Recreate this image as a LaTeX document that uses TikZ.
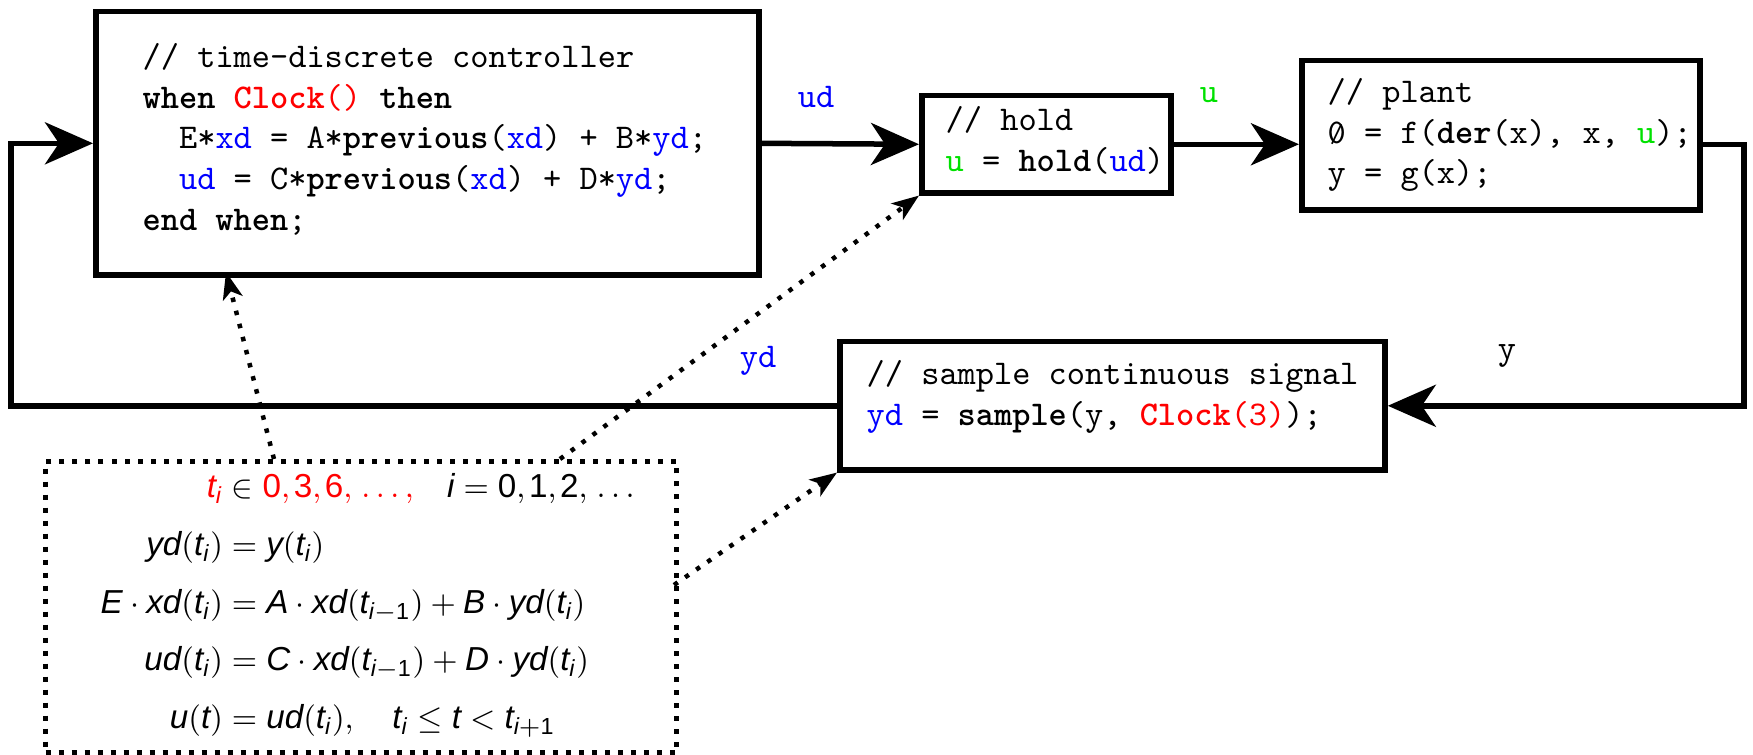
\documentclass[tikz,border=0pt]{standalone}
\usepackage{amsmath}
\usepackage{fontspec}
\newfontfamily\eqfont{Liberation Sans}
\usetikzlibrary{arrows.meta}
\definecolor{cblue}{RGB}{0,0,255}
\definecolor{cred}{RGB}{255,0,0}
\definecolor{cgreen}{RGB}{0,225,0}
\newcommand\kw[1]{\textbf{#1}}
\newcommand\bl[1]{\textcolor{cblue}{#1}}
\newcommand\gr[1]{\textcolor{cgreen}{#1}}
\newcommand\rd[1]{\textcolor{cred}{#1}}
\newcommand\mvar[1]{\textit{#1}}
\newcommand\mnum[1]{\textup{#1}}
\newcommand\cm{{,}\mkern2mu}
\newcommand\szero{\ooalign{0\cr\hidewidth\raisebox{0.05ex}{\scalebox{0.75}{/}}\hidewidth\cr}}
\tikzset{
  box/.style={draw=black, line width=0.055cm, anchor=north west, inner sep=0pt},
  code/.style={font=\ttfamily\fontsize{9.86}{11.55}\selectfont, align=left, inner sep=0pt, anchor=north west},
  lbl/.style={font=\ttfamily\fontsize{9.86}{11.55}\selectfont, inner sep=0pt},
  conn/.style={line width=0.055cm, -{Stealth[length=0.48cm,width=0.42cm,inset=0.14cm]}},
  dotarrow/.style={line width=0.045cm, dash pattern=on 0.045cm off 0.09cm, -{Stealth[length=0.27cm,width=0.2cm,inset=0.07cm]}},
  dotbox/.style={draw=black, line width=0.05cm, dash pattern=on 0.05cm off 0.08cm, anchor=north west, inner sep=0pt},
}
\begin{document}
\begin{tikzpicture}[x=0.01cm,y=-0.01cm]
\useasboundingbox (0,0) rectangle (1753,755);
% boxes
\node[box, minimum width=6.63cm, minimum height=2.63cm] (ctrl) at (93,9) {};
\node[box, minimum width=2.49cm, minimum height=0.97cm] (hold) at (919,93) {};
\node[box, minimum width=3.98cm, minimum height=1.49cm] (plant) at (1299,58) {};
\node[box, minimum width=5.45cm, minimum height=1.28cm] (sample) at (837,339) {};
\node[dotbox, minimum width=6.31cm, minimum height=2.91cm] (dbox) at (43,459) {};
% texts
\node[code] (ctrltxt) at (142,43) {%
// time-discrete controller\\
\kw{when} \rd{\kw{Clock}()} \kw{then}\\
\ \ E*\bl{xd} = A*\kw{previous}(\bl{xd}) + B*\bl{yd};\\
\ \ \bl{ud} = C*\kw{previous}(\bl{xd}) + D*\bl{yd};\\
\kw{end when};};
\node[code] (holdtxt) at (945,106) {%
// hold\\
\gr{u} = \kw{hold}(\bl{ud})};
\node[code] (planttxt) at (1327,78) {%
// plant\\
\szero{} = f(\kw{der}(x), x, \gr{u});\\
y = g(x);};
\node[code] (sampletxt) at (866,360) {%
// sample continuous signal\\
\bl{yd} = \kw{sample}(y, \rd{\kw{Clock}(3)});};
\node[font=\eqfont\fontsize{9.45}{11.8}\selectfont, inner sep=0pt, anchor=north west] (eqs) at (100,468) {%
\setlength\jot{4.6pt}%
$\begin{aligned}
\rd{\mvar{t}_{\mvar{i}}} &\in \rd{\mnum{0}\cm\mnum{3}\cm\mnum{6}\cm\ldots{,}} \quad \mvar{i} = \mnum{0}\cm\mnum{1}\cm\mnum{2}\cm\ldots\\
\mvar{yd}(\mvar{t}_{\mvar{i}}) &= \mvar{y}(\mvar{t}_{\mvar{i}})\\
\mvar{E}\cdot\mvar{xd}(\mvar{t}_{\mvar{i}}) &= \mvar{A}\cdot\mvar{xd}(\mvar{t}_{\mvar{i}-\mnum{1}}) + \mvar{B}\cdot\mvar{yd}(\mvar{t}_{\mvar{i}})\\
\mvar{ud}(\mvar{t}_{\mvar{i}}) &= \mvar{C}\cdot\mvar{xd}(\mvar{t}_{\mvar{i}-\mnum{1}}) + \mvar{D}\cdot\mvar{yd}(\mvar{t}_{\mvar{i}})\\
\mvar{u}(\mvar{t}) &= \mvar{ud}(\mvar{t}_{\mvar{i}}),\quad \mvar{t}_{\mvar{i}} \leq \mvar{t} < \mvar{t}_{\mvar{i}+\mnum{1}}
\end{aligned}$};
% labels
\node[lbl, text=cblue] (lud) at (816,97) {ud};
\node[lbl, text=cgreen] (lu) at (1209,95) {u};
\node[lbl] (ly) at (1507,356) {y};
\node[lbl, text=cblue] (lyd) at (758,361) {yd};
% connectors
\coordinate (rc) at (1744,300);
\coordinate (lc) at (11,300);
\draw[conn] (ctrl.east) -- (hold.west);
\draw[conn] (hold.east) -- (hold.east -| plant.west);
\draw[conn] (plant.east |- hold.east) -| (rc) |- (sample.east);
\draw[conn] (sample.west) -| (lc) |- (ctrl.west);
% dotted arrows
\coordinate (d1) at (274,459);
\coordinate (d2) at (560,459);
\coordinate (d3) at (674,585);
\coordinate (c1) at (226,272);
\draw[dotarrow] (d1) -- (c1);
\draw[dotarrow] (d2) -- (hold.south west);
\draw[dotarrow] (d3) -- (sample.south west);
\end{tikzpicture}
\end{document}
